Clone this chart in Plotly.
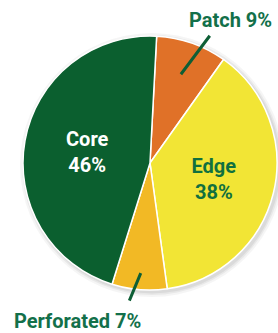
import math
import plotly.graph_objects as go

labels = ["Patch", "Edge", "Perforated", "Core"]
values = [9, 38, 7, 46]
colors = ["#e07128", "#f2e535", "#f2b925", "#0b5f2f"]
inside_labels = ["Edge", "Core"]
inside_text_colors = {"Edge": "#11703f", "Core": "#ffffff"}

W, H = 278, 333
ROT = 3
FONT = "Roboto"
GREEN = "#13704a"
LINE = "#0d5e35"

# pie domain (paper fractions)
dx = [23 / W, 277 / W]
dy = [(H - 290) / H, (H - 36) / H]

texts = [f"{l}<br>{v}%" if l in inside_labels else "" for l, v in zip(labels, values)]
tpos = ["inside" if l in inside_labels else "none" for l in labels]
tcol = [inside_text_colors.get(l, "#ffffff") for l in labels]

fig = go.Figure(go.Pie(
    labels=labels, values=values, sort=False, direction="clockwise", rotation=ROT,
    marker=dict(colors=colors, line=dict(color="#ffffff", width=1.5)),
    text=texts, textinfo="text", textposition=tpos,
    insidetextfont=dict(color=tcol, family=FONT, size=20, weight="bold"),
    insidetextorientation="horizontal",
    domain=dict(x=dx, y=dy), showlegend=False, hoverinfo="label+percent",
))

# geometry of the pie in paper fractions
cxp = (dx[0] + dx[1]) / 2
cyp = (dy[0] + dy[1]) / 2
rpx = min((dx[1] - dx[0]) * W, (dy[1] - dy[0]) * H) / 2
total = sum(values)

# soft drop shadow behind the pie
for k, a in [(5, 0.04), (3, 0.05), (1.5, 0.06)]:
    fig.add_shape(type="circle", xref="paper", yref="paper", layer="below",
                  x0=cxp - (rpx + k) / W + 2 / W, x1=cxp + (rpx + k) / W + 2 / W,
                  y0=cyp - (rpx + k) / H - 2 / H, y1=cyp + (rpx + k) / H - 2 / H,
                  fillcolor=f"rgba(0,0,0,{a})", line=dict(width=0))

def mid_point(label, frac):
    i = labels.index(label)
    start = sum(values[:i])
    theta = math.radians(ROT + 360 * (start + values[i] / 2) / total)
    return (cxp + rpx * frac * math.sin(theta) / W,
            cyp + rpx * frac * math.cos(theta) / H)

outside = {
    "Patch": dict(frac=0.74, ax=30, ay=-40, tx=230 / W, ty=1 - 20 / H),
    "Perforated": dict(frac=0.87, ax=-12, ay=29, tx=77 / W, ty=1 - 321 / H),
}
for l, o in outside.items():
    px, py = mid_point(l, o["frac"])
    fig.add_annotation(x=px, y=py, xref="paper", yref="paper", text="",
                       showarrow=True, arrowhead=0, arrowwidth=3, arrowcolor=LINE,
                       ax=o["ax"], ay=o["ay"], standoff=0, startstandoff=0)
    fig.add_annotation(x=o["tx"], y=o["ty"], xref="paper", yref="paper",
                       text=f"<b>{l} {values[labels.index(l)]}%</b>", showarrow=False,
                       font=dict(family=FONT, size=20, color=GREEN),
                       xanchor="center", yanchor="middle")

fig.update_layout(width=W, height=H, margin=dict(l=0, r=0, t=0, b=0),
                  paper_bgcolor="#ffffff", plot_bgcolor="#ffffff")
fig.write_html("out.html", config={"displayModeBar": False},
               post_script="document.body.style.margin='0';document.body.style.padding='0';document.body.style.overflow='hidden';")
